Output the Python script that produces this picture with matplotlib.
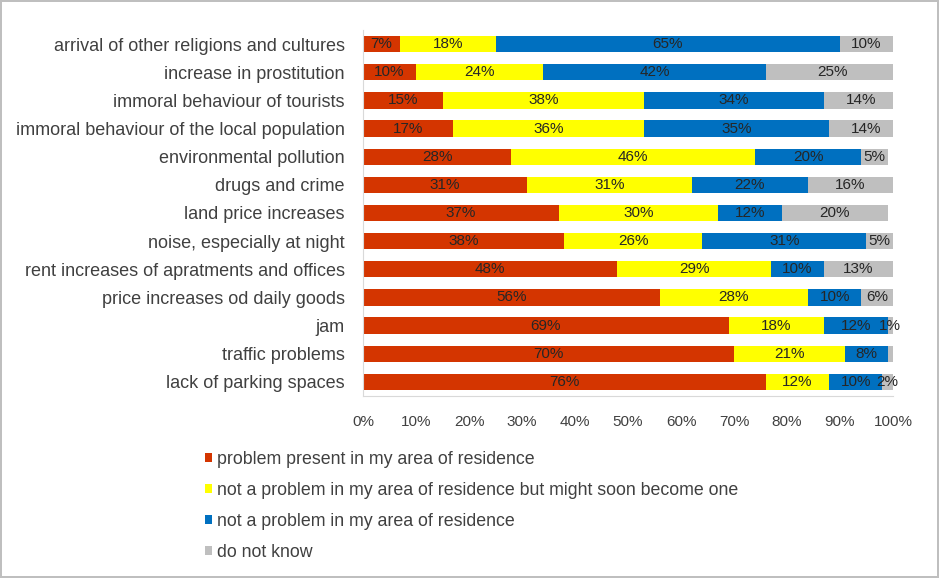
import matplotlib.pyplot as plt
from matplotlib.patches import Patch
import numpy as np

plt.rcParams['font.family'] = ['Liberation Sans', 'DejaVu Sans']

categories = [
    'arrival of other religions and cultures',
    'increase in prostitution',
    'immoral behaviour of tourists',
    'immoral behaviour of the local population',
    'environmental pollution',
    'drugs and crime',
    'land price increases',
    'noise, especially at night',
    'rent increases of apratments and offices',
    'price increases od daily goods',
    'jam',
    'traffic problems',
    'lack of parking spaces',
]

present = [7, 10, 15, 17, 28, 31, 37, 38, 48, 56, 69, 70, 76]
soon = [18, 24, 38, 36, 46, 31, 30, 26, 29, 28, 18, 21, 12]
not_problem = [65, 42, 34, 35, 20, 22, 12, 31, 10, 10, 12, 8, 10]
dont_know = [10, 25, 14, 14, 5, 16, 20, 5, 13, 6, 1, 1, 2]
# the 1% grey sliver on "traffic problems" carries no label in the original
dont_know_shown = [True] * 11 + [False, True]

series_names = [
    'problem present in my area of residence',
    'not a problem in my area of residence but might soon become one',
    'not a problem in my area of residence',
    'do not know',
]
colors = ['#D43500', '#FFFF00', '#0070C0', '#BFBFBF']

fig = plt.figure(figsize=(9.39, 5.78), dpi=100)
fig.patch.set_edgecolor('#BFBFBF')
fig.patch.set_linewidth(1.5)
ax = fig.add_axes([0.3866, 0.315, 0.5644, 0.633])

y = np.arange(len(categories))
left = np.zeros(len(categories))
all_series = [present, soon, not_problem, dont_know]
for i, vals in enumerate(all_series):
    vals = np.array(vals, dtype=float)
    ax.barh(y, vals, left=left, height=0.58, color=colors[i], edgecolor='none')
    for j, v in enumerate(vals):
        if i == 3 and not dont_know_shown[j]:
            continue
        ax.text(left[j] + v / 2, y[j], f'{int(v)}%', ha='center', va='center',
                fontsize=11, color='#262626')
    left += vals

ax.set_xlim(0, 100)
ax.set_ylim(len(categories) - 0.5, -0.5)
ax.set_yticks(y)
ax.set_yticklabels(categories, fontsize=13, color='#404040')
ax.set_xticks(np.arange(0, 101, 10))
ax.set_xticklabels([f'{t}%' for t in range(0, 101, 10)], fontsize=11, color='#404040')
ax.tick_params(axis='both', length=0)
ax.tick_params(axis='y', pad=13)
ax.tick_params(axis='x', pad=14)
for s in ['top', 'right']:
    ax.spines[s].set_visible(False)
for s in ['left', 'bottom']:
    ax.spines[s].set_color('#D9D9D9')

handles = [Patch(facecolor=c, edgecolor='none') for c in colors]
fig.legend(handles, series_names, loc='upper left', bbox_to_anchor=(0.201, 0.248),
           frameon=False, fontsize=12.8, handlelength=0.4, handleheight=0.4,
           handletextpad=0.3, labelspacing=0.8, labelcolor='#404040')

fig.savefig('out.png', dpi=100)
